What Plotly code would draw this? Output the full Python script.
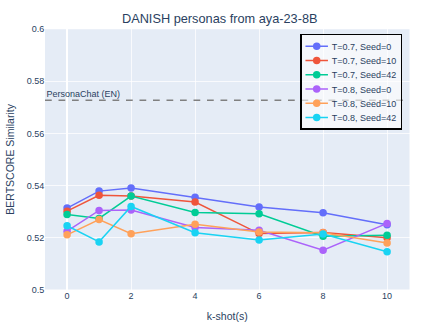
import plotly.graph_objects as go

k_shots = [0, 1, 2, 4, 6, 8, 10]
series_names = ["T=0.7, Seed=0", "T=0.7, Seed=10", "T=0.7, Seed=42",
                "T=0.8, Seed=0", "T=0.8, Seed=10", "T=0.8, Seed=42"]
t07_s0 = [0.5313, 0.5378, 0.5390, 0.5354, 0.5317, 0.5295, 0.5249]
t07_s10 = [0.5301, 0.5362, 0.5359, 0.5336, 0.5215, 0.5219, 0.5199]
t07_s42 = [0.5288, 0.5273, 0.5359, 0.5296, 0.5291, 0.5205, 0.5208]
t08_s0 = [0.5224, 0.5304, 0.5305, 0.5238, 0.5228, 0.5151, 0.5254]
t08_s10 = [0.5210, 0.5269, 0.5214, 0.5251, 0.5221, 0.5218, 0.5179]
t08_s42 = [0.5245, 0.5183, 0.5319, 0.5218, 0.5190, 0.5213, 0.5145]
baseline_value = 0.5727
baseline_label = "PersonaChat (EN)"

colors = ["#636EFA", "#EF553B", "#00CC96", "#AB63FA", "#FFA15A", "#19D3F3"]
all_series = [t07_s0, t07_s10, t07_s42, t08_s0, t08_s10, t08_s42]

# The figure is laid out at 4/3 size and shown at 0.75 scale (like the reference image)
SCALE = 0.75

fig = go.Figure()
for name, vals, c in zip(series_names, all_series, colors):
    fig.add_trace(go.Scatter(x=k_shots, y=vals, mode="lines+markers", name=name,
                             line=dict(color=c, width=2), marker=dict(size=10, color=c)))

fig.add_hline(y=baseline_value, line=dict(color="gray", dash="dash", width=2),
              annotation_text=baseline_label, annotation_position="top left",
              annotation_font=dict(size=12, color="#2a3f5f"))

fig.update_layout(
    template="plotly",
    width=586, height=439,
    margin=dict(l=60, r=40, t=39, b=53),
    title=dict(text="DANISH personas from aya-23-8B", x=0.5, xanchor="center",
               y=0.945, yanchor="middle", font=dict(size=17)),
    font=dict(family="Liberation Sans, Arial, sans-serif", size=12),
    legend=dict(x=0.98, y=0.982, xanchor="right", yanchor="top",
                bordercolor="black", borderwidth=2,
                bgcolor="rgba(255,255,255,0.6)", font=dict(size=12)),
    xaxis=dict(title=dict(text="k-shot(s)", font=dict(size=14), standoff=15),
               range=[-0.69, 10.7], automargin=False, dtick=2),
    yaxis=dict(title=dict(text="BERTSCORE Similarity", font=dict(size=14), standoff=12),
               range=[0.5, 0.6], dtick=0.02, automargin=False),
)

post = (
    "document.documentElement.style.overflow='hidden';"
    "document.body.style.margin='0';document.body.style.overflow='hidden';"
    "var d=document.getElementById('{plot_id}');"
    "d.style.transformOrigin='0 0';"
    "d.style.transform='scale(" + str(SCALE) + ")';"
)
fig.write_html("out.html", config={"displayModeBar": False}, post_script=post)
